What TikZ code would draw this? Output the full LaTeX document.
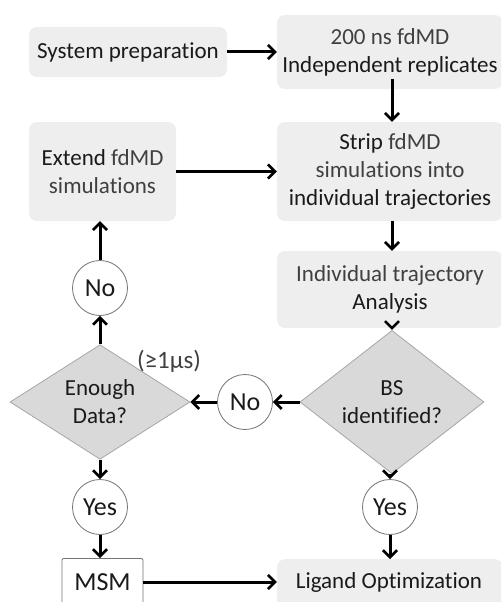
\documentclass[tikz,border=0pt]{standalone}
\usepackage{fontspec}
\setmainfont{Carlito}[Ligatures=NoCommon]
\usetikzlibrary{shapes.geometric,arrows.meta,calc}
\definecolor{dk}{HTML}{1A1A1A}
\definecolor{lt}{HTML}{404040}
\definecolor{boxfill}{HTML}{EEEEEE}
\definecolor{dmfill}{HTML}{D9D9D9}
\definecolor{dmline}{HTML}{A6A6A6}
\begin{document}
\begin{tikzpicture}[x=1pt,y=-1pt,
  every node/.style={font=\fontsize{23}{28}\selectfont, text=dk},
  big/.style={font=\fontsize{26}{30}\selectfont},
  gbox/.style={rectangle, rounded corners=8pt, fill=boxfill, draw=none, align=center, inner sep=0pt},
  dbox/.style={diamond, fill=dmfill, draw=dmline, line width=0.8pt, align=center, inner sep=0pt},
  cbox/.style={circle, draw=black!55, fill=white, line width=0.8pt, minimum size=55pt, inner sep=0pt, big},
  wbox/.style={rectangle, rounded corners=2pt, draw=black!55, fill=white, line width=0.8pt, inner sep=0pt},
  arr/.style={-{Straight Barb[length=7pt,width=14pt,line width=2.6pt]}, line width=3pt, black}
]
\useasboundingbox (0,0) rectangle (501,602);
\clip (0,0) rectangle (501,602);
\node[gbox, minimum width=198pt, minimum height=50pt] (sp) at (128,52) {\textcolor{dk}{System preparation}};
\node[gbox, minimum width=226pt, minimum height=74pt] (ns) at (390,52) {\textcolor{lt}{200 ns fdMD}\\\textcolor{dk}{Independent replicates}};
\node[gbox, minimum width=147pt, minimum height=99pt] (ext) at (102.5,171.5) {\textcolor{dk}{Extend} \textcolor{lt}{fdMD}\\\textcolor{lt}{simulations}};
\node[gbox, minimum width=226pt, minimum height=99pt] (strip) at (390,171.5) {\textcolor{dk}{Strip} \textcolor{lt}{fdMD}\\\textcolor{lt}{simulations into}\\\textcolor{dk}{individual trajectories}};
\node[gbox, minimum width=226pt, minimum height=77pt] (ita) at (390,289.5) {\textcolor{lt}{Individual trajectory}\\\textcolor{dk}{Analysis}};
\node[dbox, minimum width=184pt, minimum height=90pt] (bs) at (392,402) {BS\\identified?};
\node[dbox, minimum width=180pt, minimum height=90pt] (ed) at (100,402) {Enough\\Data?};
\node[cbox] (no1) at (245,402) {No};
\node[cbox] (no2) at (100,288) {No};
\node[cbox] (yes1) at (100,507) {Yes};
\node[cbox] (yes2) at (390,507) {Yes};
\node[wbox, minimum width=81pt, minimum height=60pt, anchor=north] (msm) at (102.5,558) {};
\node[big] (msmt) at (102.5,582) {MSM};
\node[gbox, minimum width=226pt, minimum height=60pt, anchor=north] (lig) at (390,559) {};
\node (ligt) at (389,582) {Ligand Optimization};
\node[font=\fontsize{25}{28}\selectfont] (lbl) at (169,361) {\textcolor{lt}{(≥1μs)}};
\draw[arr] (sp.east) -- (ns.west);
\draw[arr] ([yshift=10pt]ns.south -| bs) -- (strip.north -| bs);
\draw[arr] (ext.east) -- (strip.west);
\draw[arr] (strip.south -| bs) -- (ita.north -| bs);
\draw[arr] (ita.south -| bs) -- (bs.north);
\draw[arr] (bs.west) -- (no1.east);
\draw[arr] (no1.west) -- (ed.east);
\draw[arr] (ed.north) -- (no2.south);
\draw[arr] (no2.north) -- (ext.south -| no2);
\draw[arr] (ed.south) -- (yes1.north);
\draw[arr] (yes1.south) -- (msm.north -| yes1);
\draw[arr] (bs.south -| yes2) -- (yes2.north);
\draw[arr] (yes2.south) -- (lig.north -| yes2);
\draw[arr] (msm.east |- msmt) -- (lig.west |- msmt);
\end{tikzpicture}
\end{document}
